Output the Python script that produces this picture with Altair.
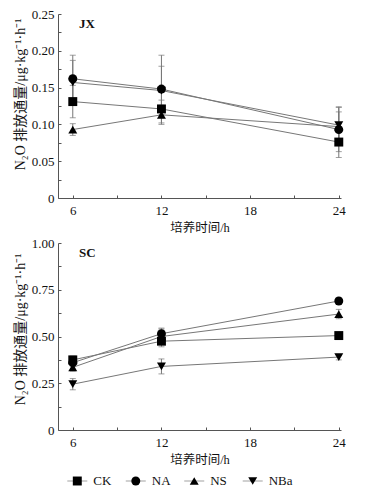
import altair as alt
import pandas as pd

# ---------------- data ----------------
times = [6, 12, 24]
series = ["CK", "NA", "NS", "NBa"]
shapes = ["square", "circle", "triangle-up", "triangle-down"]

JX_CK = [0.131, 0.121, 0.076]
JX_NA = [0.162, 0.148, 0.093]
JX_NS = [0.093, 0.113, 0.097]
JX_NBa = [0.157, 0.146, 0.099]
JX_CK_err = [0.022, 0.012, 0.021]
JX_NA_err = [0.032, 0.046, 0.030]
JX_NS_err = [0.008, 0.013, 0.020]
JX_NBa_err = [0.030, 0.033, 0.025]

SC_CK = [0.375, 0.475, 0.505]
SC_NA = [0.360, 0.515, 0.690]
SC_NS = [0.335, 0.500, 0.620]
SC_NBa = [0.245, 0.340, 0.390]
SC_CK_err = [0.020, 0.030, 0.010]
SC_NA_err = [0.020, 0.030, 0.015]
SC_NS_err = [0.020, 0.040, 0.025]
SC_NBa_err = [0.030, 0.040, 0.015]

JX_ticks = [0, 0.05, 0.10, 0.15, 0.20, 0.25]
SC_ticks = [0, 0.25, 0.50, 0.75, 1.00]
x_ticks = [6, 12, 18, 24]
x_minor = [6, 9, 12, 15, 18, 21, 24]

SERIF = "Liberation Serif, Noto Sans CJK SC"
YTITLE = "N₂O 排放通量/μg·kg⁻¹·h⁻¹"
XTITLE = "培养时间/h"
LABEL_EXPR = "datum.value == 0 ? '0' : format(datum.value, '.2f')"


def frame(vals, errs):
    rows = []
    for s, v, e in zip(series, vals, errs):
        for t, vv, ee in zip(times, v, e):
            rows.append({"t": t, "v": vv, "lo": vv - ee, "hi": vv + ee, "s": s})
    return pd.DataFrame(rows)


W = 283
XDOM = [5.0, 24.15]


def panel(df, ymax, yticks, yminor, label, H, title_y):
    xs = alt.Scale(domain=XDOM, nice=False, zero=False)
    ys = alt.Scale(domain=[0, ymax], nice=False)
    base = alt.Chart(df)
    main_x = alt.Axis(values=x_ticks, title=XTITLE, tickSize=0, labelPadding=6,
                      grid=False, domainColor="#555", labelFont=SERIF, labelFontSize=13,
                      labelColor="#111", titleFont=SERIF, titleFontSize=12.5,
                      titleFontWeight="normal", titleColor="#111", titlePadding=4)
    main_y = alt.Axis(values=yticks, labelExpr=LABEL_EXPR, title=YTITLE, tickSize=0, labelPadding=4,
                      grid=False, domainColor="#555", labelFont=SERIF, labelFontSize=13,
                      labelColor="#111", titleFont=SERIF, titleFontSize=14,
                      titleFontWeight="normal", titleColor="#111", titlePadding=4,
                      titleY=title_y)
    in_x = alt.Axis(orient="top", offset=-H, values=x_minor, labels=False, domain=False,
                    tickSize=3, tickColor="#555", grid=False, title=None)
    in_y = alt.Axis(orient="right", offset=-W, values=yminor, labels=False, domain=False,
                    tickSize=3, tickColor="#555", grid=False, title=None)

    line = base.mark_line(color="#777", strokeWidth=1).encode(
        x=alt.X("t:Q", scale=xs, axis=main_x),
        y=alt.Y("v:Q", scale=ys, axis=main_y),
        detail="s:N",
    )
    err = base.mark_rule(color="#777", strokeWidth=1).encode(
        x=alt.X("t:Q", scale=xs, axis=in_x),
        y=alt.Y("lo:Q", scale=ys, axis=in_y),
        y2="hi:Q",
    )
    cap_lo = base.mark_tick(orient="horizontal", size=6, thickness=1, color="#777").encode(
        x=alt.X("t:Q", scale=xs, axis=None),
        y=alt.Y("lo:Q", scale=ys, axis=None),
    )
    cap_hi = base.mark_tick(orient="horizontal", size=6, thickness=1, color="#777").encode(
        x=alt.X("t:Q", scale=xs, axis=None),
        y=alt.Y("hi:Q", scale=ys, axis=None),
    )
    pts = base.mark_point(filled=True, color="black", opacity=1, size=80).encode(
        x=alt.X("t:Q", scale=xs, axis=None),
        y=alt.Y("v:Q", scale=ys, axis=None),
        shape=alt.Shape("s:N", scale=alt.Scale(domain=series, range=shapes), legend=None),
    )
    txt = alt.Chart(pd.DataFrame({"l": [label]})).mark_text(
        font=SERIF, fontSize=13, fontWeight="bold", align="left", baseline="middle", color="#111"
    ).encode(text="l:N", x=alt.value(21), y=alt.value(10))
    return (
        alt.layer(line, err, cap_lo, cap_hi, pts, txt)
        .resolve_axis(x="independent", y="independent")
        .properties(width=W, height=H)
    )


jx_minor = [i * 0.025 for i in range(11)]
sc_minor = [i * 0.125 for i in range(9)]

top = panel(frame([JX_CK, JX_NA, JX_NS, JX_NBa], [JX_CK_err, JX_NA_err, JX_NS_err, JX_NBa_err]),
            0.25, JX_ticks, jx_minor, "JX", 184, 80)
bottom = panel(frame([SC_CK, SC_NA, SC_NS, SC_NBa], [SC_CK_err, SC_NA_err, SC_NS_err, SC_NBa_err]),
               1.0, SC_ticks, sc_minor, "SC", 187, 86)

leg_df = pd.DataFrame({"s": series})
lx = alt.X("s:N", scale=alt.Scale(type="point", domain=series, padding=0.33), axis=None)
leg_line = alt.Chart(leg_df).mark_tick(orient="horizontal", size=20, thickness=1, color="#777").encode(x=lx)
leg_pt = alt.Chart(leg_df).mark_point(filled=True, color="black", opacity=1, size=80).encode(
    x=lx, shape=alt.Shape("s:N", scale=alt.Scale(domain=series, range=shapes), legend=None))
leg_txt = alt.Chart(leg_df).mark_text(font=SERIF, fontSize=13, align="left", dx=16, color="#111").encode(
    x=lx, text="s:N")
legend = alt.layer(leg_line, leg_pt, leg_txt).properties(width=214, height=10)

upper = alt.vconcat(top, bottom, spacing=3)
chart = alt.vconcat(upper, legend, spacing=9).resolve_scale(shape="independent").properties(
    padding={"left": 5, "top": 0, "right": 0, "bottom": 0}
).configure_view(stroke=None)

chart.save("out.html", embed_options={"renderer": "svg", "actions": False})
